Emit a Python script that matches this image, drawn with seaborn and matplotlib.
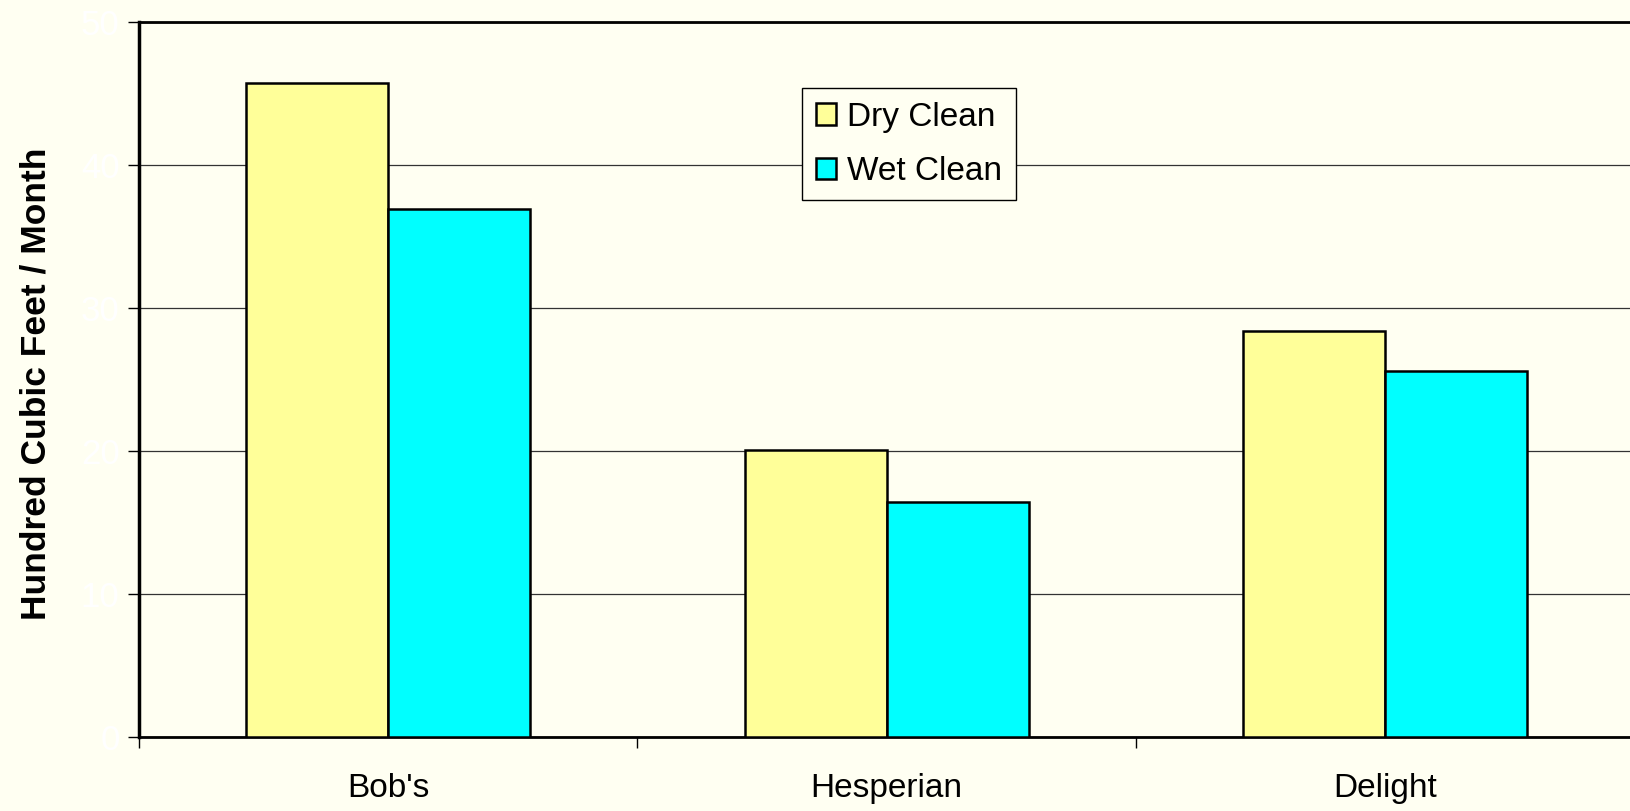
import numpy as np
import pandas as pd
import seaborn as sns
import matplotlib.pyplot as plt

sites = ["Bob's", "Hesperian", "Delight"]
dry_clean = [45.7, 20.1, 28.4]
wet_clean = [36.9, 16.4, 25.6]
y_ticks = [0, 10, 20, 30, 40, 50]

df = pd.DataFrame({
    'Site': sites * 2,
    'Method': ['Dry Clean'] * 3 + ['Wet Clean'] * 3,
    'Usage': dry_clean + wet_clean,
})

bg = '#FFFFF2'
sns.set_style('white')
plt.rcParams['font.family'] = ['Liberation Sans', 'DejaVu Sans']
plt.rcParams['text.color'] = 'black'

fig = plt.figure(figsize=(16.31, 8.11), dpi=100, facecolor=bg)
ax = fig.add_axes([0.0852, 0.0912, 0.9168, 0.8818])
ax.set_facecolor(bg)

sns.barplot(data=df, x='Site', y='Usage', hue='Method', ax=ax,
            palette={'Dry Clean': '#FFFF99', 'Wet Clean': '#00FFFF'},
            width=0.57, gap=0, edgecolor='black', linewidth=1.8,
            saturation=1, errorbar=None, zorder=3)

ax.set_ylim(0, 50)
ax.set_xlim(-0.5, 2.5)
ax.set_yticks(y_ticks)
ax.set_yticklabels([str(t) for t in y_ticks], color='white', fontsize=25)
ax.yaxis.grid(True, color='#333333', linewidth=0.9, zorder=0)
ax.set_axisbelow(True)
ax.tick_params(axis='y', direction='out', length=8, width=1, color='black', left=True, pad=6)

ax.set_xticks([0, 1, 2])
ax.set_xticklabels(sites, fontsize=24, color='black')
ax.set_xticks([-0.5, 0.5, 1.5, 2.5], minor=True)
ax.tick_params(axis='x', which='major', length=0, pad=26)
ax.tick_params(axis='x', which='minor', direction='out', length=8, width=1, color='black', bottom=True)
ax.set_xlabel('')
ax.set_ylabel('')
fig.text(0.022, 0.527, 'Hundred Cubic Feet / Month', rotation=90, ha='center', va='center',
         fontsize=25.5, fontweight='bold', color='black')

for side in ['left', 'top', 'bottom', 'right']:
    ax.spines[side].set_visible(True)
    ax.spines[side].set_color('black')
ax.spines['left'].set_linewidth(2.5)
ax.spines['top'].set_linewidth(2)
ax.spines['bottom'].set_linewidth(2)

leg = ax.legend(title=None, loc='upper left', bbox_to_anchor=(0.492, 0.891),
                bbox_transform=fig.transFigure, fontsize=24, frameon=True,
                fancybox=False, shadow=False, handlelength=0.6, handleheight=0.6,
                handletextpad=0.35, labelspacing=0.7, borderpad=0.4, borderaxespad=0)
leg.get_frame().set_edgecolor('black')
leg.get_frame().set_linewidth(1)
leg.get_frame().set_facecolor(bg)
leg.get_frame().set_alpha(1)
leg.set_zorder(5)
for t in leg.get_texts():
    t.set_color('black')
for h in leg.legend_handles:
    h.set_linewidth(1.8)

fig.savefig('out.png', dpi=100, facecolor=bg)
